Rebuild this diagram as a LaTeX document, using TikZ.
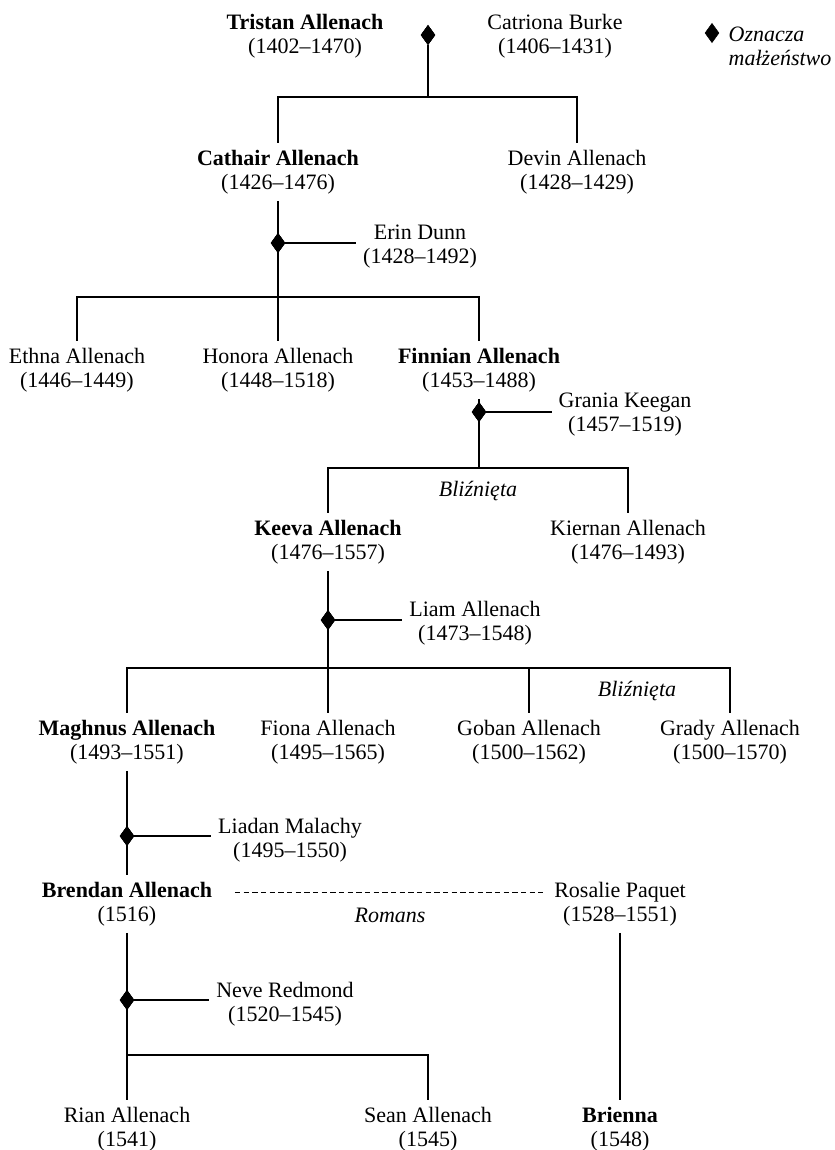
\documentclass[tikz,border=0pt]{standalone}
\usepackage{fontspec}
\setmainfont{Liberation Serif}
\usetikzlibrary{shapes.geometric}

\begin{document}
\begin{tikzpicture}[
    x=0.75pt, y=-0.75pt,
    every node/.style={font=\fontsize{16.5}{18}\selectfont},
    person/.style={align=center, inner sep=5pt},
    wed/.style={draw, shape=diamond, fill=black, minimum width=10.5pt, minimum height=14.5pt, inner sep=0pt},
    note/.style={font=\fontsize{16.5}{18}\selectfont\itshape},
    line/.style={line width=0.8pt},
    romance/.style={line width=0.6pt, dash pattern=on 4pt off 2.5pt}
]
\useasboundingbox (0,0) rectangle (835,1150);

% first generation
\node[person] (tristan) at (305,36) {\textbf{Tristan Allenach}\\(1402–1470)};
\node[person] (catriona) at (555,36) {Catriona Burke\\(1406–1431)};
\node[wed] (m1) at (428,35) {};
\coordinate (j1) at (428,97);

% legend
\node[wed] (key) at (712,33) {};
\node[note, anchor=west, align=left] (keytext) at (724,46) {Oznacza\\małżeństwo};

% second generation
\node[person] (cathair) at (278,172) {\textbf{Cathair Allenach}\\(1426–1476)};
\node[person] (devin) at (577,172) {Devin Allenach\\(1428–1429)};
\node[wed] (m2) at (278,243) {};
\node[person] (erin) at (420,247) {Erin Dunn\\(1428–1492)};
\coordinate (j2) at (278,297);

% third generation
\node[person] (ethna) at (77,370) {Ethna Allenach\\(1446–1449)};
\node[person] (honora) at (278,370) {Honora Allenach\\(1448–1518)};
\node[person] (finnian) at (479,370) {\textbf{Finnian Allenach}\\(1453–1488)};
\node[wed] (m3) at (479,412) {};
\node[person] (grania) at (625,415) {Grania Keegan\\(1457–1519)};
\coordinate (j3) at (479,468);
\node[note] (twins1) at (478,491) {Bliźnięta};

% fourth generation
\node[person] (keeva) at (328,542) {\textbf{Keeva Allenach}\\(1476–1557)};
\node[person] (kiernan) at (628,542) {Kiernan Allenach\\(1476–1493)};
\node[wed] (m4) at (328,620) {};
\node[person] (liam) at (475,623) {Liam Allenach\\(1473–1548)};
\coordinate (j4) at (328,668);
\node[note] (twins2) at (637,691) {Bliźnięta};

% fifth generation
\node[person] (maghnus) at (127,742) {\textbf{Maghnus Allenach}\\(1493–1551)};
\node[person] (fiona) at (328,742) {Fiona Allenach\\(1495–1565)};
\node[person] (goban) at (529,742) {Goban Allenach\\(1500–1562)};
\node[person] (grady) at (730,742) {Grady Allenach\\(1500–1570)};
\node[wed] (m5) at (127,836) {};
\node[person] (liadan) at (290,840) {Liadan Malachy\\(1495–1550)};

% sixth generation
\node[person] (brendan) at (127,904) {\textbf{Brendan Allenach}\\(1516)};
\node[person] (rosalie) at (620,904) {Rosalie Paquet\\(1528–1551)};
\node[note] (affair) at (390,915) {Romans};
\node[wed] (m6) at (127,1000) {};
\node[person] (neve) at (285,1004) {Neve Redmond\\(1520–1545)};
\coordinate (j5) at (127,1055);

% seventh generation
\node[person] (rian) at (127,1129) {Rian Allenach\\(1541)};
\node[person] (sean) at (428,1129) {Sean Allenach\\(1545)};
\node[person] (brienna) at (620,1129) {\textbf{Brienna}\\(1548)};

% lines of descent
\draw[line] (m1) -- (j1);
\draw[line] (j1) -| (cathair.north);
\draw[line] (j1) -| (devin.north);

\draw[line] (cathair.south) -- (j2);
\draw[line] (m2) -- (m2 -| erin.west);
\draw[line] (j2) -| (ethna.north);
\draw[line] (j2) -- (honora.north);
\draw[line] (j2) -| (finnian.north);

\draw[line] (finnian.south) -- (j3);
\draw[line] (m3) -- (m3 -| grania.west);
\draw[line] (j3) -| (keeva.north);
\draw[line] (j3) -| (kiernan.north);

\draw[line] (keeva.south) -- (j4);
\draw[line] (m4) -- (m4 -| liam.west);
\draw[line] (j4) -| (maghnus.north);
\draw[line] (j4) -- (fiona.north);
\draw[line] (j4) -| (goban.north);
\draw[line] (j4) -| (grady.north);

\draw[line] (maghnus.south) -- (brendan.north);
\draw[line] (m5) -- (m5 -| liadan.west);

\draw[romance, shorten <=12pt, shorten >=3pt] ([yshift=8.6pt]brendan.east) -- ([yshift=8.6pt]rosalie.west);

\draw[line] (brendan.south) -- (j5);
\draw[line] (m6) -- (m6 -| neve.west);
\draw[line] (j5) -- (rian.north);
\draw[line] (j5) -| (sean.north);
\draw[line] (rosalie.south) -- (brienna.north);

% diamonds on top of the lines
\foreach \m in {m1,m2,m3,m4,m5,m6}
    \node[wed] at (\m) {};

\end{tikzpicture}
\end{document}
